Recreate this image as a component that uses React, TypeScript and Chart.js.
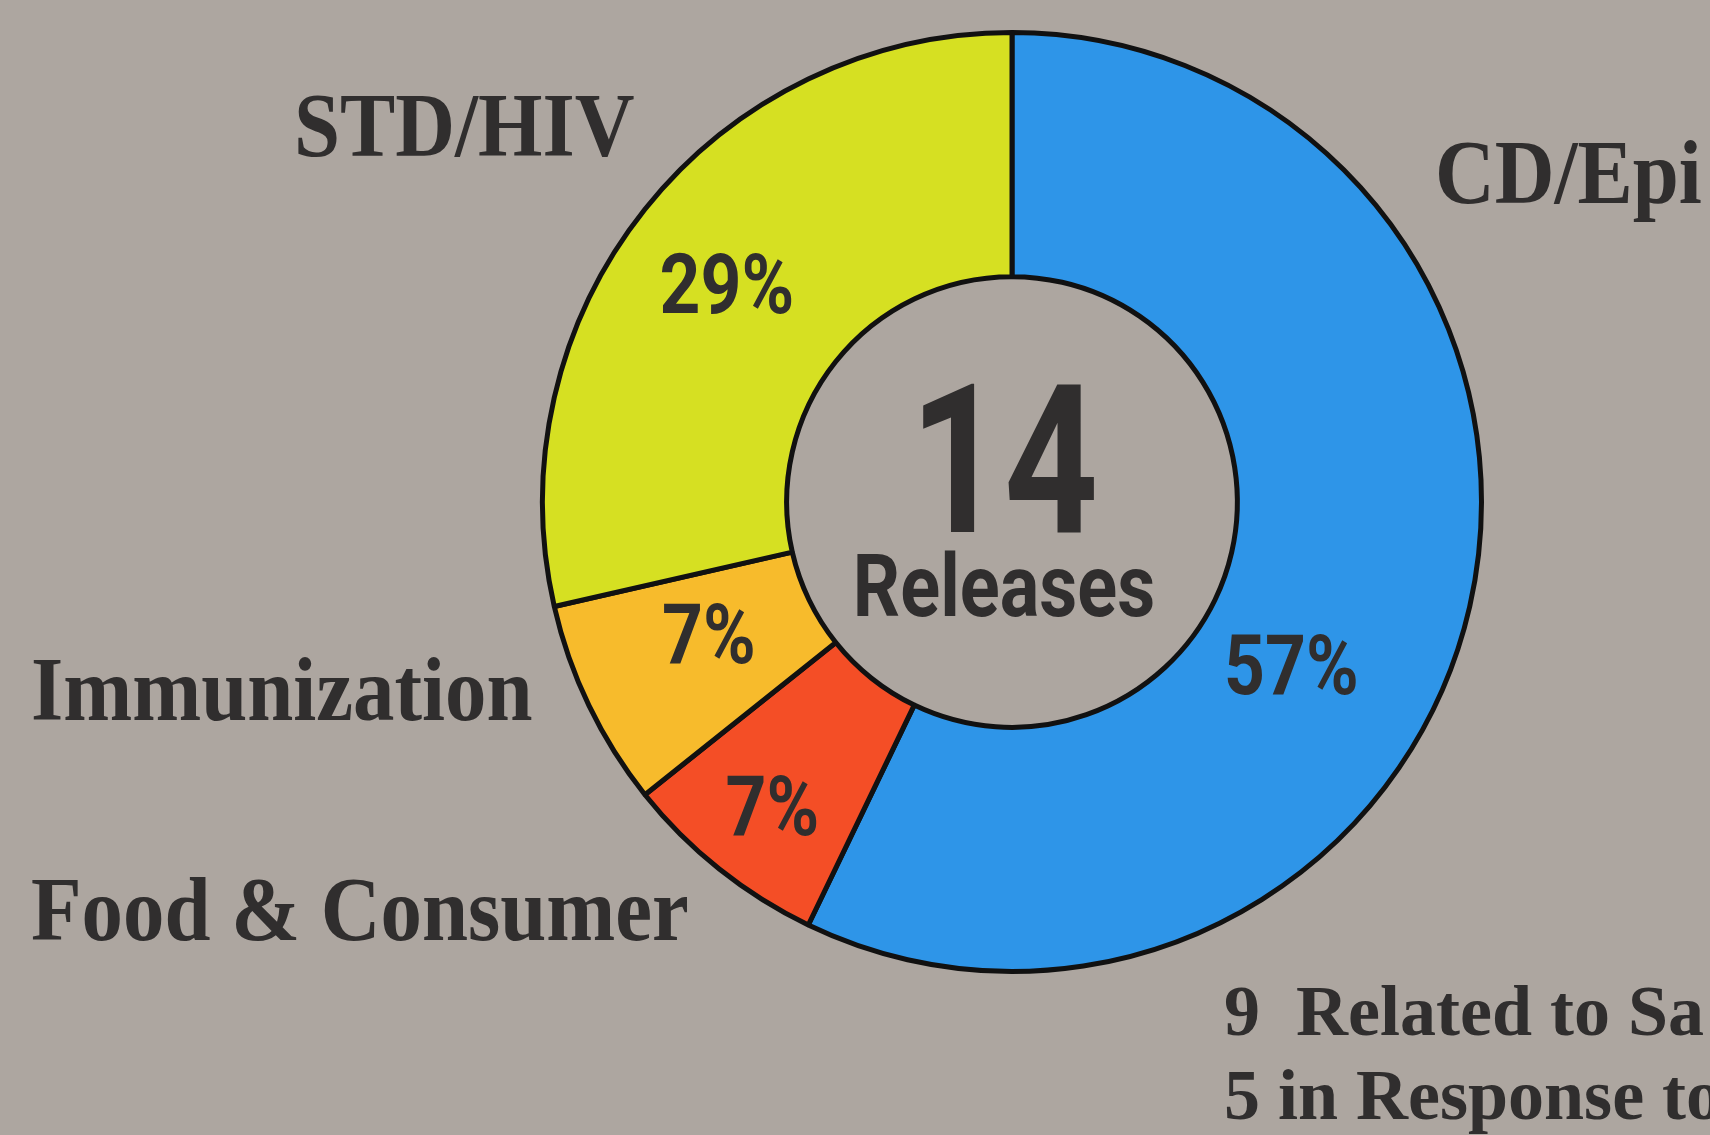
import React, { useEffect, useRef } from "react";
import { Chart, registerables } from "chart.js";

Chart.register(...registerables);

const categories = ["CD/Epi", "Food & Consumer", "Immunization", "STD/HIV"];
const releaseCounts = [8, 1, 1, 4];
const sliceColors = ["#2E95E8", "#F44E26", "#F7BB2C", "#D6E022"];
const centerCaption = "Releases";
const footnoteLines = ["9  Related to Sa", "5 in Response to"];

// Free-floating category label placement (left x, baseline y)
const categoryLabelPos = [
  [1435, 203],
  [31, 940],
  [31, 720],
  [294, 156],
];
// Percent label placement inside each slice: [fraction along angle, fraction across ring]
const pctLabelPlace = [
  [0.584, 0.4],
  [0.49, 0.66],
  [0.59, 0.43],
  [0.49, 0.55],
];
const footnotePos = [
  [1224, 1035],
  [1224, 1119],
];

const BG = "#ADA6A0";
const INK = "#302e2e";

function drawScaled(
  ctx: CanvasRenderingContext2D,
  text: string,
  x: number,
  y: number,
  font: string,
  sx: number,
  align: CanvasTextAlign
) {
  ctx.save();
  ctx.translate(x, y);
  ctx.scale(sx, 1);
  ctx.font = font;
  ctx.textAlign = align;
  ctx.textBaseline = "alphabetic";
  ctx.fillStyle = INK;
  ctx.fillText(text, 0, 0);
  ctx.restore();
}

const labelPlugin = {
  id: "labelPlugin",
  afterDraw(chart: any) {
    const ctx: CanvasRenderingContext2D = chart.ctx;
    const meta = chart.getDatasetMeta(0);
    const total = releaseCounts.reduce((a, b) => a + b, 0);
    let cx = 0;
    let cy = 0;
    meta.data.forEach((arc: any, i: number) => {
      const p = arc.getProps(
        ["x", "y", "startAngle", "endAngle", "innerRadius", "outerRadius"],
        true
      );
      cx = p.x;
      cy = p.y;
      const a = p.startAngle + pctLabelPlace[i][0] * (p.endAngle - p.startAngle);
      const r = p.innerRadius + pctLabelPlace[i][1] * (p.outerRadius - p.innerRadius);
      const px = p.x + Math.cos(a) * r;
      const py = p.y + Math.sin(a) * r;
      const pct = Math.round((releaseCounts[i] / total) * 100) + "%";
      drawScaled(ctx, pct, px, py + 30, "bold 84px Roboto", 0.85, "center");
    });
    // center text
    drawScaled(ctx, String(total), cx - 8, cy + 30, "bold 208px Roboto", 0.79, "center");
    drawScaled(ctx, centerCaption, cx - 8, cy + 114, "bold 87px Roboto", 0.85, "center");
    // category labels
    categories.forEach((c, i) => {
      const [x, y] = categoryLabelPos[i];
      drawScaled(ctx, c, x, y, 'bold 90px "Liberation Serif"', 0.92, "left");
    });
    footnoteLines.forEach((t, i) => {
      const [x, y] = footnotePos[i];
      drawScaled(ctx, t, x, y, 'bold 72px "Liberation Serif"', 1.0, "left");
    });
  },
};

export default function App() {
  const ref = useRef<HTMLCanvasElement | null>(null);
  useEffect(() => {
    document.body.style.margin = "0";
    const chart = new Chart(ref.current as HTMLCanvasElement, {
      type: "doughnut",
      data: {
        labels: categories,
        datasets: [
          {
            data: releaseCounts,
            backgroundColor: sliceColors,
            borderColor: "#111111",
            borderWidth: 5,
          },
        ],
      },
      options: {
        responsive: false,
        animation: false,
        cutout: "48%",
        layout: { padding: { left: 540, right: 226, top: 30, bottom: 161 } },
        plugins: {
          legend: { display: false },
          tooltip: { enabled: false },
        },
      },
      plugins: [labelPlugin],
    });
    return () => chart.destroy();
  }, []);
  return (
    <div
      style={{
        position: "fixed",
        left: 0,
        top: 0,
        width: 1710,
        height: 1135,
        background: BG,
        overflow: "hidden",
      }}
    >
      <canvas ref={ref} width={1710} height={1135} style={{ display: "block" }} />
    </div>
  );
}
